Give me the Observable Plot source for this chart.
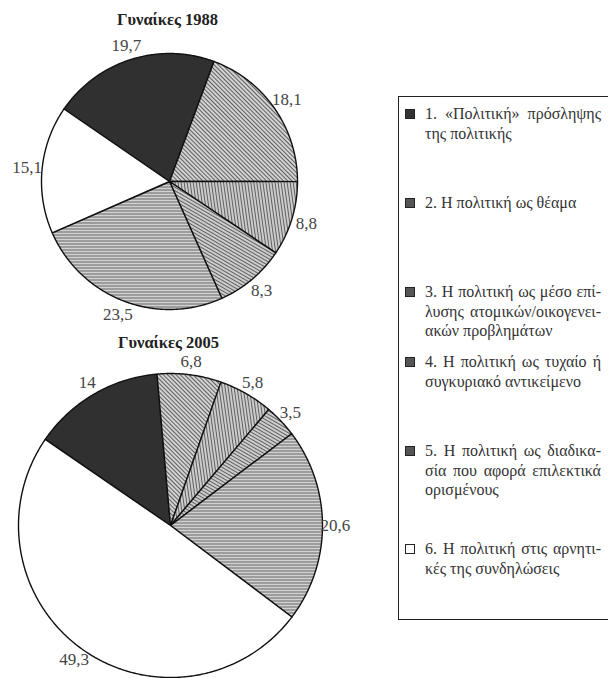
<!DOCTYPE html>
<html><head><meta charset="utf-8">
<script src="https://cdn.jsdelivr.net/npm/d3@7"></script>
<script src="https://cdn.jsdelivr.net/npm/@observablehq/plot@0.6"></script>
<style>
body{margin:0;background:#fff;}
#wrap{position:relative;width:608px;height:678px;overflow:hidden;background:#fff;}
#legend{position:absolute;left:398px;top:96px;width:216px;height:524px;border:1.5px solid #222;box-sizing:border-box;font-family:"Liberation Serif","Times New Roman","DejaVu Serif",serif;font-size:16px;color:#333;}
.item{position:absolute;left:6px;width:196px;}
.sw{position:absolute;left:0;top:4.5px;width:10px;height:10px;box-sizing:border-box;border:1px solid #222;}
.ln{margin-left:20px;line-height:19.5px;white-space:nowrap;}
</style>
</head><body><div id="wrap"><div id="chart"></div><div id="legend"></div></div>
<script>
// ---- data ----
const categories = ["1", "2", "3", "4", "5", "6"];
const legendLines = [
  ["1. «Πολιτική» πρόσληψης", "της πολιτικής"],
  ["2. Η πολιτική ως θέαμα"],
  ["3. Η πολιτική ως μέσο επί-", "λυσης ατομικών/οικογενει-", "ακών προβλημάτων"],
  ["4. Η πολιτική ως τυχαίο ή", "συγκυριακό αντικείμενο"],
  ["5. Η πολιτική ως διαδικα-", "σία που αφορά επιλεκτικά", "ορισμένους"],
  ["6. Η πολιτική στις αρνητι-", "κές της συνδηλώσεις"]
];
const values1988 = [19.7, 18.1, 8.8, 8.3, 23.5, 15.1];
const values2005 = [14, 6.8, 5.8, 3.5, 20.6, 49.3];
const pieTitles = ["Γυναίκες 1988", "Γυναίκες 2005"];

// ---- styling / layout ----
const W = 608, H = 678;
const FONT = "'Liberation Serif', 'Times New Roman', 'DejaVu Serif', serif";
const fills = ["#303030", "url(#p2)", "url(#p3)", "url(#p4)", "url(#p5)", "#ffffff"];
const swatchFills = ["#333", "#555", "#555", "#555", "#555", "#fff"];
const pies = [
  {title: pieTitles[0], values: values1988, cx: 169, cy: 181, r: 128, ty: 19, lr: 15},
  {title: pieTitles[1], values: values2005, cx: 170, cy: 525, r: 152, ty: 342, lr: 13}
];
const startDeg = -55.5;
const rad = d => d * Math.PI / 180;
const fmt = v => String(v).replace(".", ",");

const slicePts = [], labels = [], titles = [];
pies.forEach((p, pi) => {
  const total = d3.sum(p.values);
  let a = startDeg;
  p.values.forEach((v, i) => {
    const span = v / total * 360;
    const a0 = a, a1 = a + span;
    const id = pi + "-" + i;
    slicePts.push({id, fill: fills[i], x: p.cx, y: p.cy});
    const n = Math.max(2, Math.ceil(span / 0.5));
    for (let k = 0; k <= n; k++) {
      const t = rad(a0 + (a1 - a0) * k / n);
      slicePts.push({id, fill: fills[i], x: p.cx + p.r * Math.sin(t), y: p.cy - p.r * Math.cos(t)});
    }
    slicePts.push({id, fill: fills[i], x: p.cx, y: p.cy});
    const m = rad((a0 + a1) / 2), lr = p.r + p.lr;
    labels.push({text: fmt(v), x: p.cx + lr * Math.sin(m), y: p.cy - lr * Math.cos(m)});
    a = a1;
  });
  titles.push({text: p.title, x: p.cx - 2, y: p.ty});
});

function defsMark() {
  const g = d3.create("svg:g");
  const defs = g.append("defs");
  const mk = (id, rot, bg, fg, sp) => {
    const pat = defs.append("pattern").attr("id", id).attr("patternUnits", "userSpaceOnUse")
      .attr("width", sp).attr("height", sp).attr("patternTransform", `rotate(${rot})`);
    pat.append("rect").attr("width", sp).attr("height", sp).attr("fill", bg);
    pat.append("rect").attr("width", 1).attr("height", sp).attr("fill", fg);
  };
  mk("p2", -45, "#d2d2d2", "#606060", 3);
  mk("p3", -8, "#cccccc", "#606060", 3);
  mk("p4", -60, "#cccccc", "#626262", 3);
  mk("p5", 90, "#d2d2d2", "#666666", 3);
  return g.node();
}

const chart = Plot.plot({
  width: W, height: H,
  margin: 0,
  x: {domain: [0, W], range: [0, W], axis: null},
  y: {domain: [0, H], range: [0, H], axis: null},
  color: {type: "identity"},
  style: {background: "transparent", fontFamily: FONT},
  marks: [
    defsMark,
    Plot.line(slicePts, {x: "x", y: "y", z: "id", fill: "fill", stroke: "#111", strokeWidth: 1.4, strokeLinejoin: "round"}),
    Plot.text(labels, {x: "x", y: "y", text: "text", fontSize: 17, fill: "#444", fontFamily: FONT}),
    Plot.text(titles, {x: "x", y: "y", text: "text", fontSize: 16.5, fontWeight: "bold", fill: "#222", fontFamily: FONT})
  ]
});
document.getElementById("chart").appendChild(chart);

// ---- legend (HTML, justified like the original) ----
const itemTops = [103, 192, 281, 351, 440, 538];
const TEXT_W = 176;
const legend = d3.select("#legend");
legendLines.forEach((lines, i) => {
  const it = legend.append("div").attr("class", "item").style("top", (itemTops[i] - 96) + "px");
  it.append("div").attr("class", "sw").style("background", swatchFills[i]);
  lines.forEach((t, j) => {
    const span = it.append("div").attr("class", "ln").append("span").text(t).node();
    const w = span.getBoundingClientRect().width;
    const justify = j < lines.length - 1;
    const spaces = (t.match(/ /g) || []).length;
    if (w > TEXT_W) {
      span.style.letterSpacing = ((TEXT_W - w) / (t.length - 1)) + "px";
    } else if (justify && spaces > 0) {
      span.style.wordSpacing = ((TEXT_W - w) / spaces) + "px";
    }
  });
});
</script>
</body></html>
